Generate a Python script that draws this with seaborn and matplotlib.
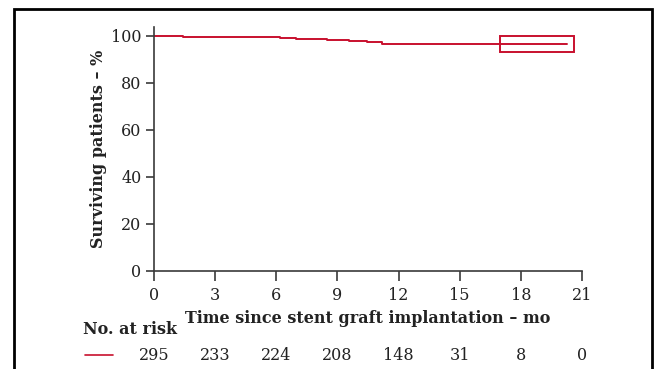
import matplotlib
matplotlib.use("Agg")
import matplotlib.pyplot as plt
import matplotlib.transforms as mtrans
import seaborn as sns
import pandas as pd
from matplotlib.patches import Rectangle

# Data
months = [0, 1.4, 6.2, 6.95, 8.5, 9.55, 10.45, 11.2, 20.25]
surviving = [100, 99.6, 99.1, 98.7, 98.3, 97.9, 97.3, 96.7, 96.7]
x_ticks = [0, 3, 6, 9, 12, 15, 18, 21]
y_ticks = [0, 20, 40, 60, 80, 100]
at_risk = [295, 233, 224, 208, 148, 31, 8, 0]
ci_box_x = [17.0, 20.6]
ci_box_y = [93.1, 100]

red = "#c8102e"
grey = "#3a3a3a"
txt = "#222222"
fs = 11.5

sns.set_theme(style="white")
plt.rcParams["font.family"] = ["DejaVu Serif"]

fig = plt.figure(figsize=(6.62, 3.69), dpi=100)
ax = fig.add_axes([0.2326, 0.2664, 0.879 - 0.2326, 0.926 - 0.2664])

df = pd.DataFrame({"t": months, "s": surviving})
sns.lineplot(data=df, x="t", y="s", ax=ax, color=red, linewidth=1.4,
             drawstyle="steps-post", estimator=None, legend=False)

ax.add_patch(Rectangle((ci_box_x[0], ci_box_y[0]), ci_box_x[1] - ci_box_x[0],
                       ci_box_y[1] - ci_box_y[0], fill=False, edgecolor=red,
                       linewidth=1.4))

ax.set_xlim(0, 21)
ax.set_ylim(0, 103.6)
ax.set_xticks(x_ticks)
ax.set_yticks(y_ticks)
ax.tick_params(axis="both", bottom=True, left=True, labelsize=fs,
               labelcolor=txt, length=6, width=1.2, direction="out",
               color=grey, pad=3)
ax.tick_params(axis="x", length=7, pad=5)
for s in ["top", "right"]:
    ax.spines[s].set_visible(False)
for s in ["left", "bottom"]:
    ax.spines[s].set_color(grey)
    ax.spines[s].set_linewidth(1.2)

ax.set_xlabel("Time since stent graft implantation – mo", fontsize=fs,
              fontweight="bold", color=txt, labelpad=4)
ax.set_ylabel("Surviving patients – %", fontsize=fs, fontweight="bold",
              color=txt, labelpad=3)

# Number at risk
fig.text(83 / 662, 1 - 330 / 369, "No. at risk", fontsize=fs,
         fontweight="bold", color=txt, ha="left", va="center")
row_y = 1 - 355 / 369
blend = mtrans.blended_transform_factory(ax.transData, fig.transFigure)
for xt, n in zip(x_ticks, at_risk):
    ax.text(xt, row_y, str(n), transform=blend, ha="center", va="center",
            fontsize=fs, color=txt)
fig.add_artist(plt.Line2D([85 / 662, 113 / 662], [row_y, row_y],
                          color=red, linewidth=1.2))

# Outer frame
fig.add_artist(Rectangle((13.5 / 662, -0.05), (651.5 - 13.5) / 662,
                         1 - 9.5 / 369 + 0.05, fill=False, edgecolor="black",
                         linewidth=2, transform=fig.transFigure))

fig.savefig("out.png", dpi=100)
